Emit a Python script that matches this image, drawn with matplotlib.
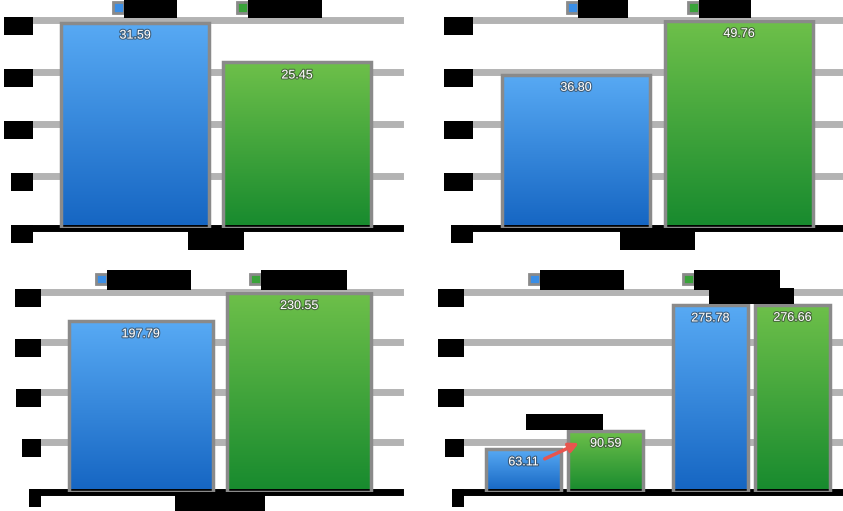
import numpy as np
import matplotlib
matplotlib.use("Agg")
import matplotlib.pyplot as plt
import matplotlib.patheffects as pe
from matplotlib.colors import LinearSegmentedColormap
from matplotlib.patches import Patch

plt.rcParams['font.family'] = ['Liberation Sans', 'DejaVu Sans']

# ---- data (labels in the source image are blacked out, these are placeholders) ----
tl_series = ["Original", "Refactored"]
tl_cats = ["Time (s)"]
tl_blue = [31.59]
tl_green = [25.45]
tl_ticks = [0, 8, 16, 24, 32]

tr_series = ["Legacy", "Current"]
tr_cats = ["Requests/s"]
tr_blue = [36.80]
tr_green = [49.76]
tr_ticks = [0, 12.5, 25, 37.5, 50]

bl_series = ["Legacy build", "Current build"]
bl_cats = ["Memory (MB)"]
bl_blue = [197.79]
bl_green = [230.55]
bl_ticks = [0, 58, 116, 174, 232]

br_series = ["Legacy build", "Current build"]
br_cats = ["Memory Avg", "Memory Peak"]
br_blue = [63.11, 275.78]
br_green = [90.59, 276.66]
br_ticks = [0, 74, 148, 222, 296]

# ---- style ----
BLUE = ('#1565c2', '#58aaf4')
GREEN = ('#178a2e', '#6ec04a')
FRAME = '#8a8a8a'
GRID = '#b3b3b3'
BOX = dict(facecolor='black', edgecolor='none', pad=2)

blue_cmap = LinearSegmentedColormap.from_list('b', BLUE)
green_cmap = LinearSegmentedColormap.from_list('g', GREEN)
grad = np.linspace(0, 1, 256).reshape(-1, 1)


def gradient_bar(ax, x, h, w, cmap):
    ax.imshow(grad, extent=[x - w / 2, x + w / 2, 0, h], origin='lower',
              aspect='auto', cmap=cmap, zorder=2)
    ax.bar(x, h, w, facecolor='none', edgecolor=FRAME, linewidth=2.5, zorder=3)
    ax.annotate(f"{h:.2f}", (x, h), xytext=(0, -5), textcoords='offset points',
                ha='center', va='top', color='white', fontsize=9, zorder=5,
                path_effects=[pe.withStroke(linewidth=1.6, foreground='#333333', alpha=0.6)])


def panel(ax, cats, blue, green, ticks, series, xlim, fmt, labels_above=False):
    off, w = 0.22, 0.40
    xs = np.arange(len(cats))
    for x, b, g in zip(xs, blue, green):
        gradient_bar(ax, x - off, b, w, blue_cmap)
        gradient_bar(ax, x + off, g, w, green_cmap)
    for t in ticks[1:]:
        ax.axhline(t, color=GRID, linewidth=5, zorder=0.5, clip_on=False)

    ax.set_xlim(*xlim)
    ax.set_ylim(0, ticks[-1])
    for s in ['top', 'right', 'left']:
        ax.spines[s].set_visible(False)
    ax.spines['bottom'].set_color('black')
    ax.spines['bottom'].set_linewidth(5)

    ax.set_yticks(ticks, [fmt.format(t) for t in ticks])
    ax.tick_params(axis='y', length=0, pad=1, labelsize=9)
    plt.setp(ax.get_yticklabels(), va='top', bbox=BOX)

    if labels_above:
        ax.set_xticks([])
        for x, b, g, c in zip(xs, blue, green, cats):
            ax.annotate(c, (x, max(b, g)), xytext=(0, 2), textcoords='offset points',
                        ha='center', va='bottom', fontsize=9.5,
                        bbox=dict(facecolor='black', edgecolor='none', pad=1.5), zorder=6)
    else:
        ax.set_xticks(xs, cats)
        ax.tick_params(axis='x', length=0, pad=4, labelsize=10)
        plt.setp(ax.get_xticklabels(), bbox=BOX)

    handles = [Patch(facecolor='#3a8ee6', edgecolor=FRAME, linewidth=2),
               Patch(facecolor='#3aa33a', edgecolor=FRAME, linewidth=2)]
    leg = ax.legend(handles, series, loc='lower center', bbox_to_anchor=(0.5, 1.0),
                    ncol=2, frameon=False, handlelength=0.8, handleheight=0.8,
                    handletextpad=0.2, columnspacing=4.5, fontsize=10,
                    borderaxespad=0.15, borderpad=0.2)
    for t in leg.get_texts():
        t.set_bbox(BOX)


fig = plt.figure(figsize=(8.43, 5.11), dpi=100)
ax_tl = fig.add_axes([0.038, 0.554, 0.4365, 0.407])
ax_tr = fig.add_axes([0.560, 0.554, 0.440, 0.407])
ax_bl = fig.add_axes([0.0474, 0.037, 0.427, 0.392])
ax_br = fig.add_axes([0.549, 0.037, 0.451, 0.392])

panel(ax_tl, tl_cats, tl_blue, tl_green, tl_ticks, tl_series, (-0.5, 0.5), "{:.1f}")
panel(ax_tr, tr_cats, tr_blue, tr_green, tr_ticks, tr_series, (-0.5, 0.5), "{:.1f}")
panel(ax_bl, bl_cats, bl_blue, bl_green, bl_ticks, bl_series, (-0.5, 0.5), "{:.0f}")
panel(ax_br, br_cats, br_blue, br_green, br_ticks, br_series, (-0.545, 1.49), "{:.0f}",
      labels_above=True)

# red arrow pointing from the first blue bar to the first green bar
ax_br.annotate('', xy=(0.09, br_green[0] * 0.82), xytext=(-0.12, br_blue[0] * 0.75),
               arrowprops=dict(arrowstyle='-|>', color='#e8554e', lw=2.5, mutation_scale=14),
               zorder=7)

fig.savefig('out.png', dpi=100)
